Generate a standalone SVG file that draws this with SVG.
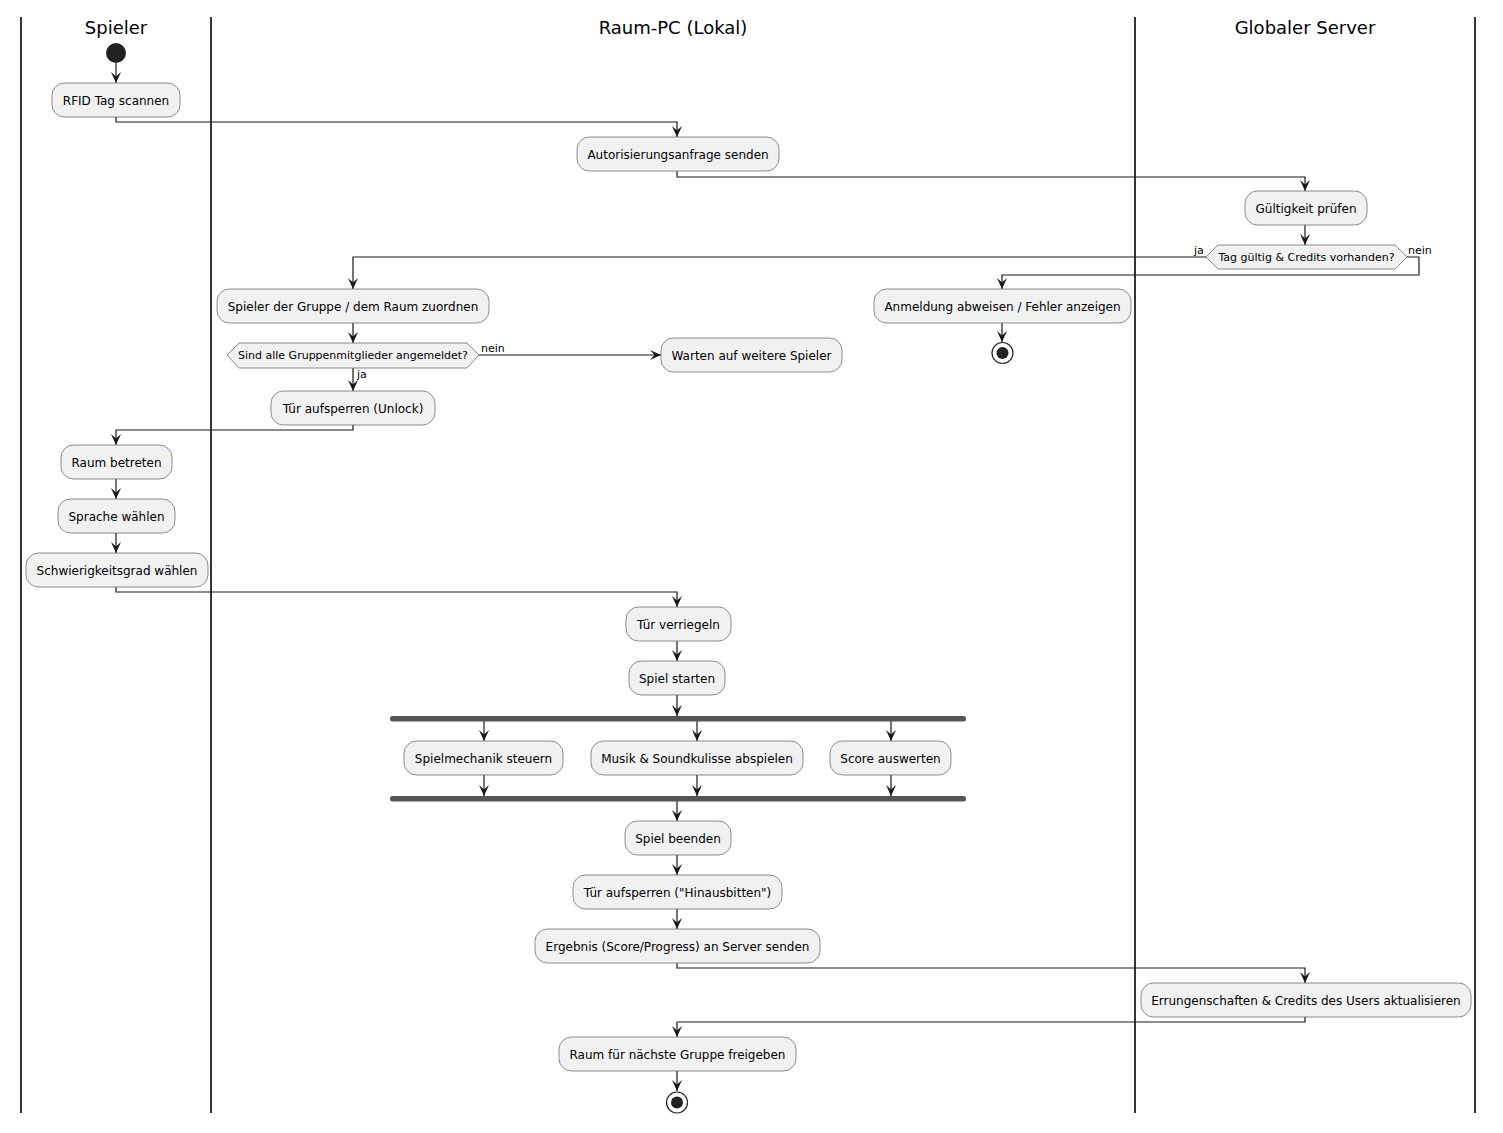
<svg xmlns="http://www.w3.org/2000/svg" width="1503" height="1133" viewBox="0 0 1503 1133">
<style>
text{font-family:"DejaVu Sans","Liberation Sans",sans-serif;fill:#000}
.t{font-size:18px;text-anchor:middle}
.a rect{fill:#F1F1F1;stroke:#707070;stroke-width:0.8}
.a text{font-size:12px;text-anchor:middle}
.d polygon{fill:#F1F1F1;stroke:#707070;stroke-width:0.8}
.d text{font-size:11px;text-anchor:middle}
.lbl{font-size:11px}
.lane{stroke:#000;stroke-width:1.6}
.c path{fill:none;stroke:#181818;stroke-width:1.2}
.bar{fill:#555555}
</style>
<defs>
<marker id="ah" viewBox="0 0 11 10" refX="11" refY="5" markerWidth="11" markerHeight="10" markerUnits="userSpaceOnUse" orient="auto">
<path d="M0,0 L11,5 L0,10 L4.5,5 Z" fill="#181818"/>
</marker>
</defs>
<rect width="1503" height="1133" fill="#fff"/>
<g id="lanes">
<line class="lane" x1="21" y1="17" x2="21" y2="1113"/>
<line class="lane" x1="211" y1="17" x2="211" y2="1113"/>
<line class="lane" x1="1135" y1="17" x2="1135" y2="1113"/>
<line class="lane" x1="1475" y1="17" x2="1475" y2="1113"/>
<text class="t" x="116" y="34">Spieler</text>
<text class="t" x="673" y="34">Raum-PC (Lokal)</text>
<text class="t" x="1305" y="34">Globaler Server</text>
</g>
<g class="c" id="connectors">
<path d="M116,63 V83" marker-end="url(#ah)"/>
<path d="M116,117 V122 H677 V137" marker-end="url(#ah)"/>
<path d="M677,171 V177 H1305 V191" marker-end="url(#ah)"/>
<path d="M1305,225 V245" marker-end="url(#ah)"/>
<path d="M1206,257 H353 V289" marker-end="url(#ah)"/>
<path d="M1407,257 H1419 V275 H1002 V289" marker-end="url(#ah)"/>
<path d="M1002,323 V342" marker-end="url(#ah)"/>
<path d="M353,323 V343" marker-end="url(#ah)"/>
<path d="M479,355 H661" marker-end="url(#ah)"/>
<path d="M353,368 V391" marker-end="url(#ah)"/>
<path d="M353,425 V430 H116 V445" marker-end="url(#ah)"/>
<path d="M116,479 V499" marker-end="url(#ah)"/>
<path d="M116,533 V553" marker-end="url(#ah)"/>
<path d="M116,587 V592 H677 V607" marker-end="url(#ah)"/>
<path d="M677,641 V661" marker-end="url(#ah)"/>
<path d="M677,695 V716" marker-end="url(#ah)"/>
<path d="M484,721 V741" marker-end="url(#ah)"/>
<path d="M697,721 V741" marker-end="url(#ah)"/>
<path d="M891,721 V741" marker-end="url(#ah)"/>
<path d="M484,775 V796" marker-end="url(#ah)"/>
<path d="M697,775 V796" marker-end="url(#ah)"/>
<path d="M891,775 V796" marker-end="url(#ah)"/>
<path d="M677,801 V821" marker-end="url(#ah)"/>
<path d="M677,855 V875" marker-end="url(#ah)"/>
<path d="M677,909 V929" marker-end="url(#ah)"/>
<path d="M677,963 V968 H1305 V983" marker-end="url(#ah)"/>
<path d="M1305,1017 V1022 H677 V1037" marker-end="url(#ah)"/>
<path d="M677,1071 V1091" marker-end="url(#ah)"/>
<text class="lbl" x="1194" y="254">ja</text>
<text class="lbl" x="1408" y="254">nein</text>
<text class="lbl" x="481" y="352">nein</text>
<text class="lbl" x="357" y="378">ja</text>
</g>
<g id="start"><circle cx="116" cy="53" r="10" fill="#222"/></g>
<g class="a" id="n_rfid"><rect x="52" y="83" width="128" height="34" rx="12.5"/><text x="116" y="104.5">RFID Tag scannen</text></g>
<g class="a" id="n_auth"><rect x="577" y="137" width="202" height="34" rx="12.5"/><text x="678" y="158.5">Autorisierungsanfrage senden</text></g>
<g class="a" id="n_check"><rect x="1245" y="191" width="122" height="34" rx="12.5"/><text x="1306" y="212.5">Gültigkeit prüfen</text></g>
<g class="d" id="d_valid"><polygon points="1206,257 1218,245 1395,245 1407,257 1395,269 1218,269"/><text x="1306.5" y="261">Tag gültig &amp; Credits vorhanden?</text></g>
<g class="a" id="n_reject"><rect x="874" y="289" width="257" height="34" rx="12.5"/><text x="1002.5" y="310.5">Anmeldung abweisen / Fehler anzeigen</text></g>
<g id="stop1"><circle cx="1002.5" cy="353" r="10.5" fill="none" stroke="#222" stroke-width="1.2"/><circle cx="1002.5" cy="353" r="6" fill="#222"/></g>
<g class="a" id="n_assign"><rect x="217" y="289" width="272" height="34" rx="12.5"/><text x="353" y="310.5">Spieler der Gruppe / dem Raum zuordnen</text></g>
<g class="d" id="d_all"><polygon points="227,355 239,343 467,343 479,355 467,368 239,368"/><text x="353" y="359">Sind alle Gruppenmitglieder angemeldet?</text></g>
<g class="a" id="n_wait"><rect x="661" y="338" width="181" height="34" rx="12.5"/><text x="751.5" y="359.5">Warten auf weitere Spieler</text></g>
<g class="a" id="n_unlock"><rect x="271" y="391" width="164" height="34" rx="12.5"/><text x="353" y="412.5">Tür aufsperren (Unlock)</text></g>
<g class="a" id="n_enter"><rect x="61" y="445" width="111" height="34" rx="12.5"/><text x="116.5" y="466.5">Raum betreten</text></g>
<g class="a" id="n_lang"><rect x="58" y="499" width="117" height="34" rx="12.5"/><text x="116.5" y="520.5">Sprache wählen</text></g>
<g class="a" id="n_diff"><rect x="26" y="553" width="182" height="34" rx="12.5"/><text x="117" y="574.5">Schwierigkeitsgrad wählen</text></g>
<g class="a" id="n_lock"><rect x="626" y="607" width="105" height="34" rx="12.5"/><text x="678.5" y="628.5">Tür verriegeln</text></g>
<g class="a" id="n_start"><rect x="629" y="661" width="96" height="34" rx="12.5"/><text x="677" y="682.5">Spiel starten</text></g>
<g id="fork"><rect class="bar" x="390" y="716" width="576" height="5.5" rx="2.5"/></g>
<g class="a" id="n_mech"><rect x="404" y="741" width="159" height="34" rx="12.5"/><text x="483.5" y="762.5">Spielmechanik steuern</text></g>
<g class="a" id="n_music"><rect x="591" y="741" width="212" height="34" rx="12.5"/><text x="697" y="762.5">Musik &amp; Soundkulisse abspielen</text></g>
<g class="a" id="n_score"><rect x="830" y="741" width="121" height="34" rx="12.5"/><text x="890.5" y="762.5">Score auswerten</text></g>
<g id="join"><rect class="bar" x="390" y="796" width="576" height="5.5" rx="2.5"/></g>
<g class="a" id="n_end"><rect x="625" y="821" width="106" height="34" rx="12.5"/><text x="678" y="842.5">Spiel beenden</text></g>
<g class="a" id="n_out"><rect x="573" y="875" width="209" height="34" rx="12.5"/><text x="677.5" y="896.5">Tür aufsperren ("Hinausbitten")</text></g>
<g class="a" id="n_result"><rect x="535" y="929" width="285" height="34" rx="12.5"/><text x="677.5" y="950.5">Ergebnis (Score/Progress) an Server senden</text></g>
<g class="a" id="n_update"><rect x="1141" y="983" width="330" height="34" rx="12.5"/><text x="1306" y="1004.5">Errungenschaften &amp; Credits des Users aktualisieren</text></g>
<g class="a" id="n_free"><rect x="559" y="1037" width="237" height="34" rx="12.5"/><text x="677.5" y="1058.5">Raum für nächste Gruppe freigeben</text></g>
<g id="stop2"><circle cx="677" cy="1102.5" r="10.5" fill="none" stroke="#222" stroke-width="1.2"/><circle cx="677" cy="1102.5" r="6" fill="#222"/></g>
</svg>
